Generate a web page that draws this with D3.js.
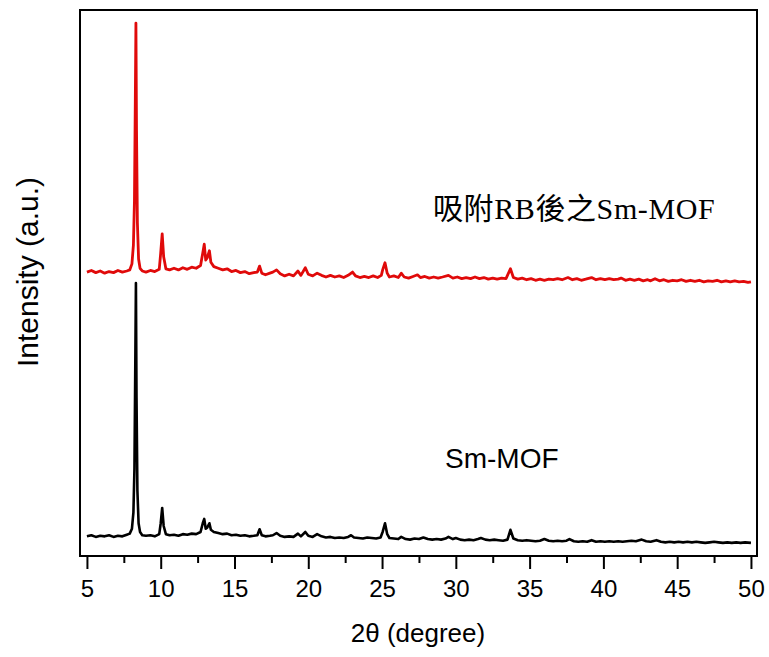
<!DOCTYPE html>
<html>
<head>
<meta charset="utf-8">
<script src="https://cdn.jsdelivr.net/npm/d3@7"></script>
<style>
  html, body { margin: 0; padding: 0; background: #fff; }
  svg { display: block; }
</style>
</head>
<body>
<div id="xrd-chart"></div>
<script>
// XRD patterns: Sm-MOF before and after RB adsorption
const majorTicks = [5, 10, 15, 20, 25, 30, 35, 40, 45, 50];
const minorTicks = [7.5, 12.5, 17.5, 22.5, 27.5, 32.5, 37.5, 42.5, 47.5];
const seriesLabels = ["Sm-MOF", "吸附RB後之Sm-MOF"];
const rbOffset = 480; // vertical stacking of the red pattern

// [2theta, intensity] for Sm-MOF (black)
const smMofPattern = [
  [5.0, 36], [5.3, 38], [5.6, 35], [5.9, 37], [6.2, 36], [6.5, 38], [6.8, 35], [7.1, 37],
  [7.4, 36], [7.7, 39], [7.9, 41], [8.05, 50], [8.15, 80], [8.22, 160], [8.28, 360], [8.32, 500],
  [8.36, 290], [8.42, 120], [8.5, 60], [8.6, 44], [8.75, 38], [9.0, 37], [9.3, 38], [9.6, 36],
  [9.9, 40], [10.0, 60], [10.1, 88], [10.2, 55], [10.35, 40], [10.6, 38], [10.9, 39], [11.2, 37],
  [11.5, 40], [11.8, 39], [12.1, 41], [12.4, 40], [12.7, 44], [12.85, 60], [12.95, 68], [13.05, 50],
  [13.15, 52], [13.3, 60], [13.4, 48], [13.6, 44], [13.9, 42], [14.2, 40], [14.5, 41], [14.8, 38],
  [15.1, 39], [15.4, 37], [15.7, 38], [16.0, 36], [16.3, 37], [16.55, 38], [16.7, 49], [16.85, 38],
  [17.1, 36], [17.4, 37], [17.6, 38], [17.85, 42], [18.1, 37], [18.4, 35], [18.7, 36], [19.0, 35],
  [19.3, 41], [19.5, 36], [19.8, 44], [20.0, 37], [20.3, 35], [20.6, 40], [20.9, 36], [21.2, 34],
  [21.5, 35], [21.8, 33], [22.1, 34], [22.4, 33], [22.7, 35], [22.9, 38], [23.1, 34], [23.4, 33],
  [23.7, 32], [24.0, 34], [24.3, 33], [24.6, 32], [24.9, 34], [25.05, 45], [25.2, 60], [25.35, 40],
  [25.5, 33], [25.8, 32], [26.1, 31], [26.3, 35], [26.6, 31], [26.9, 30], [27.2, 32], [27.5, 31],
  [27.8, 34], [28.1, 31], [28.4, 30], [28.7, 31], [29.0, 30], [29.3, 32], [29.5, 35], [29.8, 31],
  [30.0, 33], [30.3, 30], [30.6, 29], [30.9, 30], [31.2, 29], [31.5, 31], [31.7, 33], [32.0, 30],
  [32.3, 29], [32.6, 30], [32.9, 29], [33.2, 28], [33.5, 30], [33.7, 48], [33.9, 32], [34.2, 29],
  [34.5, 28], [34.8, 29], [35.1, 28], [35.4, 27], [35.7, 28], [36.0, 31], [36.3, 28], [36.6, 27],
  [36.9, 28], [37.2, 27], [37.5, 28], [37.7, 31], [38.0, 27], [38.3, 26], [38.6, 27], [38.9, 26],
  [39.2, 29], [39.5, 26], [39.8, 27], [40.1, 26], [40.4, 27], [40.7, 26], [41.0, 27], [41.3, 26],
  [41.6, 27], [41.9, 28], [42.2, 27], [42.6, 30], [42.9, 27], [43.2, 26], [43.6, 29], [43.9, 26],
  [44.2, 25], [44.5, 26], [44.8, 25], [45.1, 26], [45.4, 25], [45.7, 26], [46.0, 25], [46.3, 26],
  [46.6, 25], [46.9, 24], [47.2, 25], [47.5, 26], [47.8, 25], [48.1, 24], [48.4, 25], [48.7, 24],
  [49.0, 25], [49.3, 24], [49.6, 25], [50.0, 24]
];

// [2theta, intensity] for Sm-MOF after RB adsorption (red), before offset
const rbMofPattern = [
  [5.0, 40], [5.3, 43], [5.6, 39], [5.9, 42], [6.2, 38], [6.5, 41], [6.8, 39], [7.1, 43],
  [7.4, 40], [7.7, 42], [7.9, 44], [8.05, 55], [8.15, 90], [8.22, 170], [8.28, 360], [8.32, 496],
  [8.36, 300], [8.42, 130], [8.5, 64], [8.6, 47], [8.75, 42], [9.0, 40], [9.3, 43], [9.6, 41],
  [9.9, 45], [10.0, 75], [10.1, 110], [10.2, 68], [10.35, 46], [10.6, 44], [10.9, 47], [11.2, 44],
  [11.5, 48], [11.8, 45], [12.1, 49], [12.4, 47], [12.7, 52], [12.85, 75], [12.95, 91], [13.05, 62],
  [13.15, 66], [13.3, 79], [13.4, 58], [13.6, 50], [13.9, 47], [14.2, 44], [14.5, 46], [14.8, 41],
  [15.1, 43], [15.4, 39], [15.7, 41], [16.0, 37], [16.3, 39], [16.55, 40], [16.7, 51], [16.85, 38],
  [17.1, 35], [17.4, 38], [17.6, 40], [17.85, 44], [18.1, 37], [18.4, 33], [18.7, 36], [19.0, 33],
  [19.3, 42], [19.5, 34], [19.8, 48], [20.0, 36], [20.3, 33], [20.6, 38], [20.9, 34], [21.2, 31],
  [21.5, 34], [21.8, 31], [22.1, 33], [22.4, 30], [22.7, 34], [23.0, 40], [23.2, 33], [23.5, 30],
  [23.8, 32], [24.1, 30], [24.4, 33], [24.7, 30], [24.95, 34], [25.05, 45], [25.2, 57], [25.35, 38],
  [25.5, 31], [25.8, 33], [26.1, 30], [26.3, 38], [26.5, 31], [26.8, 29], [27.1, 32], [27.4, 35],
  [27.6, 30], [27.9, 32], [28.2, 29], [28.5, 31], [28.8, 29], [29.1, 31], [29.5, 34], [29.8, 29],
  [30.1, 31], [30.4, 28], [30.7, 30], [31.0, 28], [31.3, 31], [31.6, 28], [31.9, 30], [32.2, 27],
  [32.5, 29], [32.8, 27], [33.1, 29], [33.4, 28], [33.7, 46], [33.9, 30], [34.2, 27], [34.5, 29],
  [34.8, 26], [35.1, 28], [35.4, 25], [35.7, 27], [36.0, 25], [36.3, 27], [36.6, 26], [36.9, 28],
  [37.2, 26], [37.6, 30], [37.9, 26], [38.2, 28], [38.5, 25], [38.8, 27], [39.2, 30], [39.5, 26],
  [39.8, 28], [40.1, 26], [40.4, 28], [40.7, 26], [41.0, 27], [41.2, 29], [41.5, 25], [41.8, 27],
  [42.1, 25], [42.4, 27], [42.7, 24], [43.0, 26], [43.2, 24], [43.5, 28], [43.8, 24], [44.1, 26],
  [44.4, 23], [44.7, 25], [45.0, 24], [45.3, 26], [45.6, 23], [45.9, 25], [46.2, 23], [46.5, 25],
  [46.8, 22], [47.1, 24], [47.4, 23], [47.7, 25], [48.0, 22], [48.3, 24], [48.6, 22], [48.9, 24],
  [49.2, 22], [49.5, 23], [49.8, 21], [50.0, 22]
];

(function () {
  const margin = { top: 10, right: 12, bottom: 101, left: 80 };
  const width = 769 - margin.left - margin.right;
  const height = 657 - margin.top - margin.bottom;
  const ColourBlack = "#000000";
  const ColourRed = "#e00a0a";
  const sansFont = "Arial, 'Liberation Sans', sans-serif";

  const svg = d3
    .select("#xrd-chart")
    .append("svg")
    .attr("width", 769)
    .attr("height", 657)
    .append("g")
    .attr("transform", `translate(${margin.left},${margin.top})`);

  const xScale = d3.scaleLinear().domain([4.53, 50.41]).range([0, width]);
  const yScale = d3.scaleLinear().domain([0, 1000]).range([height, 0]);

  const line = d3
    .line()
    .x((d) => xScale(d[0]))
    .y((d) => yScale(d[1]));

  // patterns
  svg
    .append("path")
    .datum(smMofPattern)
    .attr("fill", "none")
    .attr("stroke", ColourBlack)
    .attr("stroke-width", 2.6)
    .attr("stroke-linejoin", "round")
    .attr("d", line);

  svg
    .append("path")
    .datum(rbMofPattern.map((d) => [d[0], d[1] + rbOffset]))
    .attr("fill", "none")
    .attr("stroke", ColourRed)
    .attr("stroke-width", 2.8)
    .attr("stroke-linejoin", "round")
    .attr("d", line);

  // frame
  svg
    .append("rect")
    .attr("x", 0)
    .attr("y", 0)
    .attr("width", width)
    .attr("height", height)
    .attr("fill", "none")
    .attr("stroke", "#000")
    .attr("stroke-width", 2);

  // x axis: minor then major ticks
  const minorAxis = svg
    .append("g")
    .attr("transform", `translate(0, ${height})`)
    .call(d3.axisBottom(xScale).tickValues(minorTicks).tickSize(7).tickFormat(""));
  minorAxis.select(".domain").remove();

  const majorAxis = svg
    .append("g")
    .attr("transform", `translate(0, ${height})`)
    .call(
      d3
        .axisBottom(xScale)
        .tickValues(majorTicks)
        .tickSize(13)
        .tickPadding(11)
        .tickFormat(d3.format("d"))
    );
  majorAxis.select(".domain").remove();

  svg.selectAll(".tick line").attr("stroke", "#000").attr("stroke-width", 2);
  majorAxis
    .selectAll("text")
    .attr("font-family", sansFont)
    .attr("font-size", "24px")
    .attr("fill", "#000");

  // axis titles
  svg
    .append("text")
    .attr("x", 418 - margin.left)
    .attr("y", 642 - margin.top)
    .attr("text-anchor", "middle")
    .attr("font-family", sansFont)
    .attr("font-size", "26px")
    .text("2θ (degree)");

  svg
    .append("text")
    .attr("transform", `translate(${38 - margin.left}, ${272 - margin.top}) rotate(-90)`)
    .attr("text-anchor", "middle")
    .attr("font-family", sansFont)
    .attr("font-size", "30px")
    .text("Intensity (a.u.)");

  // series labels
  svg
    .append("text")
    .attr("x", 445 - margin.left)
    .attr("y", 468 - margin.top)
    .attr("font-family", sansFont)
    .attr("font-size", "28px")
    .text(seriesLabels[0]);

  svg
    .append("text")
    .attr("x", 433 - margin.left)
    .attr("y", 219 - margin.top)
    .attr("font-family", "'Liberation Serif', 'Times New Roman', 'Noto Sans CJK TC', serif")
    .attr("font-size", "30px")
    .attr("letter-spacing", "0.6px")
    .text(seriesLabels[1]);
})();
</script>
</body>
</html>
